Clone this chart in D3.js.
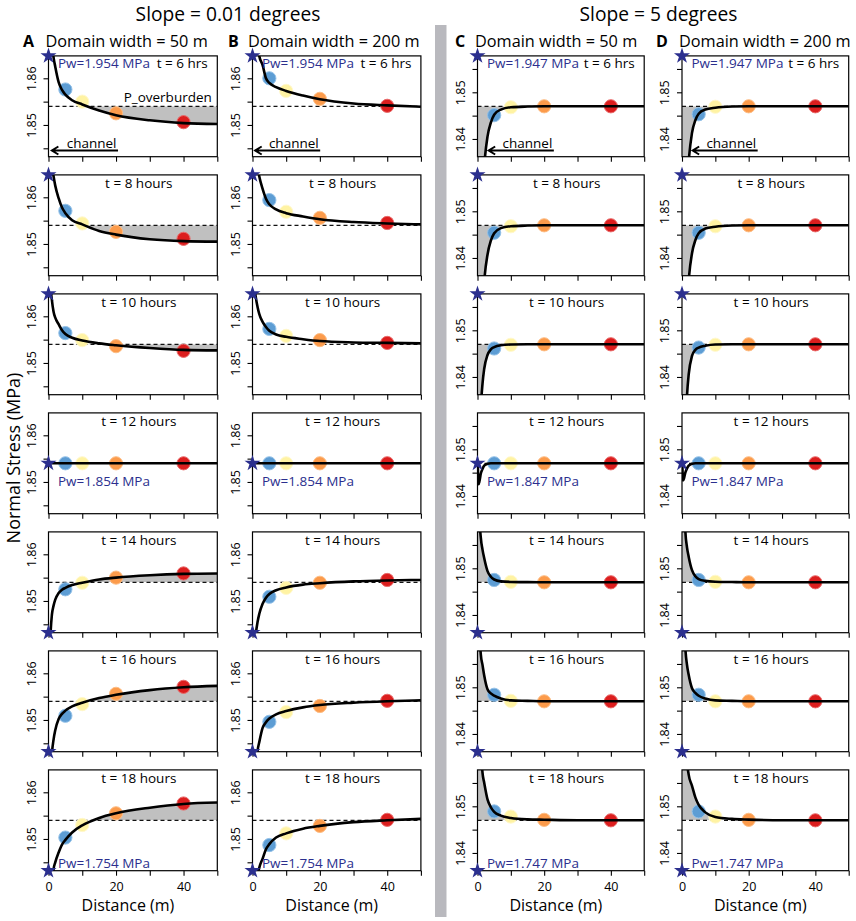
<!DOCTYPE html>
<html>
<head>
<meta charset="utf-8">
<script src="https://cdn.jsdelivr.net/npm/d3@7"></script>
<style>
  body { margin: 0; background: #fff; }
  text { font-family: "Open Sans", "Noto Sans", sans-serif; }
</style>
</head>
<body>
<div id="chart"></div>
<script>
// ---- data ----
const timeLabels = ["t = 6 hrs", "t = 8 hours", "t = 10 hours", "t = 12 hours", "t = 14 hours", "t = 16 hours", "t = 18 hours"];
const pwLow = [1.954, 1.940, 1.904, 1.854, 1.804, 1.767, 1.754];     // slope 0.01 deg
const pwSteep = [1.947, 1.933, 1.897, 1.847, 1.797, 1.760, 1.747];   // slope 5 deg
const pOverburdenLow = 1.854;
const pOverburdenSteep = 1.847;
const ylimLow = [1.844, 1.864];
const ylimSteep = [1.837, 1.857];
const yTicksLow = [1.845, 1.85, 1.855, 1.86];
const yLabelsLow = [1.85, 1.86];
const yTicksSteep = [1.84, 1.845, 1.85, 1.855];
const yLabelsSteep = [1.84, 1.85];
const xTicks = [0, 10, 20, 30, 40, 50];
const xLabels = [0, 20, 40];
const dotX = [5, 10, 20, 40];
const dotColors = ["#5d9dd4", "#fff3a3", "#fc9b4b", "#dc1e1e"];
const dotEdges = ["#93c1e8", "#fff8cc", "#fdbd85", "#e96a6a"];

const curveX = [0.1, 0.3, 0.6, 1, 1.5, 2, 3, 4, 5, 7, 10, 15, 20, 30, 40, 50];

const curveA = [
  [1.890, 1.880, 1.874, 1.868, 1.8645, 1.8625, 1.8592, 1.8575, 1.8565, 1.8553, 1.8544, 1.8531, 1.8521, 1.8510, 1.8504, 1.8502],
  [1.888, 1.878, 1.872, 1.867, 1.8645, 1.8625, 1.8598, 1.8578, 1.8566, 1.8551, 1.8542, 1.8528, 1.8520, 1.8510, 1.8506, 1.8505],
  [1.882, 1.874, 1.867, 1.8635, 1.861, 1.8597, 1.8583, 1.8570, 1.8562, 1.8554, 1.8548, 1.8542, 1.8538, 1.8532, 1.8528, 1.8527],
  [1.854, 1.854, 1.854, 1.854, 1.854, 1.854, 1.854, 1.854, 1.854, 1.854, 1.854, 1.854, 1.854, 1.854, 1.854, 1.854],
  [1.830, 1.838, 1.843, 1.847, 1.849, 1.8503, 1.8517, 1.8524, 1.8528, 1.8534, 1.8539, 1.8546, 1.8550, 1.8555, 1.8558, 1.8559],
  [1.820, 1.828, 1.836, 1.8425, 1.8458, 1.8478, 1.8502, 1.8513, 1.8520, 1.8529, 1.8537, 1.8547, 1.8554, 1.8564, 1.8570, 1.8573],
  [1.805, 1.815, 1.827, 1.837, 1.8435, 1.8450, 1.8471, 1.8488, 1.8498, 1.8514, 1.8529, 1.8545, 1.8555, 1.8567, 1.8575, 1.8578]
];
const curveB = [
  [1.890, 1.880, 1.875, 1.870, 1.867, 1.8648, 1.8628, 1.8600, 1.8590, 1.8581, 1.8573, 1.8563, 1.8555, 1.8546, 1.8542, 1.8539],
  [1.888, 1.878, 1.873, 1.869, 1.8665, 1.8645, 1.8618, 1.8597, 1.8585, 1.8574, 1.8566, 1.8559, 1.8553, 1.8547, 1.8544, 1.8542],
  [1.880, 1.872, 1.8665, 1.8640, 1.8620, 1.8605, 1.8588, 1.8577, 1.8569, 1.8561, 1.8556, 1.8551, 1.8547, 1.8544, 1.8543, 1.8542],
  [1.854, 1.854, 1.854, 1.854, 1.854, 1.854, 1.854, 1.854, 1.854, 1.854, 1.854, 1.854, 1.854, 1.854, 1.854, 1.854],
  [1.830, 1.836, 1.840, 1.843, 1.8455, 1.8472, 1.8494, 1.8507, 1.8515, 1.8523, 1.8529, 1.8535, 1.8538, 1.8542, 1.8544, 1.8545],
  [1.818, 1.826, 1.832, 1.838, 1.8433, 1.8452, 1.8483, 1.8495, 1.8503, 1.8512, 1.8519, 1.8527, 1.8532, 1.8537, 1.8540, 1.8542],
  [1.805, 1.815, 1.823, 1.831, 1.8420, 1.8438, 1.8458, 1.8478, 1.8489, 1.8503, 1.8512, 1.8522, 1.8528, 1.8536, 1.8540, 1.8543]
];
const curveC = [
  [1.790, 1.800, 1.810, 1.820, 1.828, 1.834, 1.8405, 1.8435, 1.8452, 1.8463, 1.8468, 1.84695, 1.847, 1.847, 1.847, 1.847],
  [1.792, 1.805, 1.814, 1.822, 1.829, 1.8348, 1.8407, 1.8437, 1.8453, 1.8464, 1.8468, 1.84695, 1.847, 1.847, 1.847, 1.847],
  [1.800, 1.815, 1.823, 1.833, 1.8385, 1.8417, 1.8447, 1.8459, 1.8464, 1.8468, 1.84695, 1.847, 1.847, 1.847, 1.847, 1.847],
  [1.847, 1.8425, 1.8432, 1.8448, 1.8458, 1.8465, 1.8469, 1.847, 1.847, 1.847, 1.847, 1.847, 1.847, 1.847, 1.847, 1.847],
  [1.900, 1.880, 1.861, 1.8565, 1.8540, 1.8522, 1.8494, 1.8482, 1.8476, 1.8472, 1.84708, 1.84703, 1.847, 1.847, 1.847, 1.847],
  [1.900, 1.880, 1.862, 1.8570, 1.8548, 1.8526, 1.8496, 1.8487, 1.8482, 1.8476, 1.8472, 1.8471, 1.847, 1.847, 1.847, 1.847],
  [1.920, 1.900, 1.880, 1.863, 1.8572, 1.8551, 1.8515, 1.8498, 1.8488, 1.8480, 1.8475, 1.8472, 1.84712, 1.847, 1.847, 1.847]
];
const curveD = [
  [1.790, 1.800, 1.810, 1.820, 1.829, 1.835, 1.8413, 1.8440, 1.8454, 1.8463, 1.8467, 1.84695, 1.847, 1.847, 1.847, 1.847],
  [1.792, 1.803, 1.812, 1.821, 1.829, 1.8350, 1.8410, 1.8438, 1.8453, 1.8463, 1.8467, 1.84695, 1.847, 1.847, 1.847, 1.847],
  [1.800, 1.810, 1.818, 1.828, 1.8360, 1.8405, 1.8445, 1.8458, 1.8463, 1.8467, 1.84695, 1.847, 1.847, 1.847, 1.847, 1.847],
  [1.847, 1.8433, 1.8438, 1.8450, 1.8459, 1.8465, 1.8469, 1.847, 1.847, 1.847, 1.847, 1.847, 1.847, 1.847, 1.847, 1.847],
  [1.900, 1.880, 1.866, 1.858, 1.8545, 1.8525, 1.8496, 1.8483, 1.8477, 1.8473, 1.84712, 1.84705, 1.847, 1.847, 1.847, 1.847],
  [1.900, 1.880, 1.866, 1.8585, 1.8548, 1.8527, 1.8498, 1.8488, 1.8482, 1.8476, 1.8472, 1.8471, 1.847, 1.847, 1.847, 1.847],
  [1.920, 1.900, 1.885, 1.870, 1.860, 1.8568, 1.8544, 1.8519, 1.8503, 1.8487, 1.8477, 1.8473, 1.84715, 1.847, 1.847, 1.847]
];

const dotsA = [
  [1.8576, 1.8550, 1.8525, 1.8506],
  [1.8571, 1.8544, 1.8526, 1.8511],
  [1.8564, 1.8549, 1.8536, 1.8526],
  [1.854, 1.854, 1.854, 1.854],
  [1.8525, 1.8539, 1.8550, 1.8559],
  [1.8509, 1.8534, 1.8556, 1.8571],
  [1.8503, 1.8530, 1.8555, 1.8576]
];
const dotsB = [
  [1.8600, 1.8573, 1.8556, 1.8541],
  [1.8594, 1.8569, 1.8556, 1.8545],
  [1.8573, 1.8558, 1.8549, 1.8543],
  [1.854, 1.854, 1.854, 1.854],
  [1.8509, 1.8528, 1.8539, 1.8545],
  [1.8496, 1.8517, 1.8530, 1.8541],
  [1.8487, 1.8512, 1.8528, 1.8541]
];
const dotsC = [
  [1.8451, 1.8468, 1.847, 1.847],
  [1.8454, 1.8468, 1.847, 1.847],
  [1.8461, 1.8469, 1.847, 1.847],
  [1.847, 1.847, 1.847, 1.847],
  [1.8475, 1.8471, 1.847, 1.847],
  [1.8484, 1.8471, 1.847, 1.847],
  [1.8489, 1.8478, 1.8471, 1.847]
];
const dotsD = [
  [1.8453, 1.8469, 1.847, 1.847],
  [1.8454, 1.8468, 1.847, 1.847],
  [1.8463, 1.8469, 1.847, 1.847],
  [1.847, 1.847, 1.847, 1.847],
  [1.8475, 1.8471, 1.847, 1.847],
  [1.8484, 1.8470, 1.847, 1.847],
  [1.8489, 1.8478, 1.8471, 1.847]
];

// side of the overburden line that is shaded grey (-1 below, +1 above, 0 none)
const fillA = [-1, -1, -1, 0, 1, 1, 1];
const fillB = [0, 0, 0, 0, 0, 0, 0];
const fillC = [-1, -1, -1, 0, 1, 1, 1];
const fillD = [-1, -1, -1, 0, 1, 1, 1];

// ---- layout ----
const W = 856, H = 921;
const rowTop0 = 55.9, rowPitch = 119, plotH = 100.8;
const navy = "#2b2f8e";

const columns = [
  {key: "A", head: "Domain width = 50 m", left: 48.5, width: 168.8, keyX: 23, headX: 45.5, curves: curveA, dots: dotsA, fills: fillA,
   pw: pwLow, p: pOverburdenLow, ylim: ylimLow, ticks: yTicksLow, labels: yLabelsLow, arrow: [20.6, 1.0]},
  {key: "B", head: "Domain width = 200 m", left: 252.5, width: 168.4, keyX: 228, headX: 248, curves: curveB, dots: dotsB, fills: fillB,
   pw: pwLow, p: pOverburdenLow, ylim: ylimLow, ticks: yTicksLow, labels: yLabelsLow, arrow: [20.1, 0.8]},
  {key: "C", head: "Domain width = 50 m", left: 477.5, width: 166.7, keyX: 455, headX: 475, curves: curveC, dots: dotsC, fills: fillC,
   pw: pwSteep, p: pOverburdenSteep, ylim: ylimSteep, ticks: yTicksSteep, labels: yLabelsSteep, arrow: [22.9, 3.35]},
  {key: "D", head: "Domain width = 200 m", left: 682, width: 166.7, keyX: 656, headX: 679, curves: curveD, dots: dotsD, fills: fillD,
   pw: pwSteep, p: pOverburdenSteep, ylim: ylimSteep, ticks: yTicksSteep, labels: yLabelsSteep, arrow: [22.7, 3.2]}
];

const svg = d3.select("#chart").append("svg")
  .attr("width", W)
  .attr("height", H)
  .attr("viewBox", [0, 0, W, H]);

const defs = svg.append("defs");

// grey separator between the two slopes
svg.append("rect")
  .attr("x", 435).attr("y", 25)
  .attr("width", 11.5).attr("height", 892)
  .attr("fill", "#b9b9be");

// section titles
svg.append("text").attr("x", 228).attr("y", 21).attr("text-anchor", "middle")
  .attr("font-size", 19.2).text("Slope = 0.01 degrees");
svg.append("text").attr("x", 658.5).attr("y", 21).attr("text-anchor", "middle")
  .attr("font-size", 19.2).text("Slope = 5 degrees");

// y axis title
svg.append("text")
  .attr("transform", "translate(20,458) rotate(-90)")
  .attr("text-anchor", "middle")
  .attr("font-size", 18)
  .text("Normal Stress (MPa)");

columns.forEach((col, ci) => {
  svg.append("text").attr("x", col.keyX).attr("y", 46.5)
    .attr("font-size", 16).attr("font-weight", "bold").text(col.key);
  svg.append("text").attr("x", col.headX).attr("y", 46.5)
    .attr("font-size", 16.3).text(col.head);

  const x = d3.scaleLinear().domain([0, 50]).range([0, col.width]);
  const pad = 0.04 * (col.ylim[1] - col.ylim[0]);
  const y = d3.scaleLinear().domain([col.ylim[0] - pad, col.ylim[1] + pad]).range([plotH, 0]);

  col.curves.forEach((vals, ri) => {
    const top = rowTop0 + ri * rowPitch;
    const g = svg.append("g").attr("transform", `translate(${col.left},${top})`);
    const clipId = `clip-${ci}-${ri}`;
    defs.append("clipPath").attr("id", clipId)
      .append("rect").attr("width", col.width).attr("height", plotH);

    const pts = curveX.map((d, i) => [d, vals[i]]);
    const yP = y(col.p);

    // grey area between profile and overburden
    const side = col.fills[ri];
    if (side !== 0) {
      const fillId = `fill-${ci}-${ri}`;
      defs.append("clipPath").attr("id", fillId)
        .append("rect")
        .attr("x", 0).attr("width", col.width)
        .attr("y", side > 0 ? 0 : yP)
        .attr("height", side > 0 ? yP : plotH - yP);
      g.append("path")
        .attr("clip-path", `url(#${fillId})`)
        .attr("fill", "#c0c0c0")
        .attr("d", d3.area()
          .x(d => x(d[0]))
          .y0(yP)
          .y1(d => y(d[1]))
          .curve(d3.curveMonotoneX)(pts));
    }

    // overburden line
    g.append("line")
      .attr("x1", 0).attr("x2", col.width)
      .attr("y1", yP).attr("y2", yP)
      .attr("stroke", "#111").attr("stroke-width", 1.3)
      .attr("stroke-dasharray", "4,3");

    // observation points
    g.append("g").selectAll("circle")
      .data(col.dots[ri])
      .join("circle")
      .attr("cx", (d, i) => x(dotX[i]))
      .attr("cy", d => y(d))
      .attr("r", 6.6)
      .attr("fill", (d, i) => dotColors[i])
      .attr("stroke", (d, i) => dotEdges[i])
      .attr("stroke-width", 1);

    // stress profile
    g.append("path")
      .attr("clip-path", `url(#${clipId})`)
      .attr("fill", "none")
      .attr("stroke", "#000")
      .attr("stroke-width", 2.6)
      .attr("d", d3.line()
        .x(d => x(d[0]))
        .y(d => y(d[1]))
        .curve(d3.curveMonotoneX)(pts));

    // box
    g.append("rect")
      .attr("width", col.width).attr("height", plotH)
      .attr("fill", "none").attr("stroke", "#000").attr("stroke-width", 1.2);

    // y axis
    const yAxis = g.append("g")
      .call(d3.axisLeft(y).tickValues(col.ticks).tickSize(5)
        .tickFormat(d => col.labels.includes(d) ? d3.format(".2f")(d) : ""));
    yAxis.select(".domain").remove();
    yAxis.selectAll("line").attr("stroke-width", 1.1);
    yAxis.selectAll("text")
      .attr("transform", "rotate(-90)")
      .attr("x", 0).attr("y", -13).attr("dy", 0)
      .attr("text-anchor", "middle")
      .attr("font-size", 12.5)
      .attr("font-family", "\"Open Sans\", sans-serif")
      .attr("fill", "#000");

    // x axis
    const last = ri === col.curves.length - 1;
    const xAxis = g.append("g")
      .attr("transform", `translate(0,${plotH})`)
      .call(d3.axisBottom(x).tickValues(xTicks).tickSize(5)
        .tickFormat(d => last && xLabels.includes(d) ? d : ""));
    xAxis.select(".domain").remove();
    xAxis.selectAll("line").attr("stroke-width", 1.1);
    xAxis.selectAll("text")
      .attr("y", 20).attr("dy", 0)
      .attr("font-size", 12.5)
      .attr("font-family", "\"Open Sans\", sans-serif")
      .attr("fill", "#000");

    // injection well pressure (star clamped to the panel edge)
    const [lo, hi] = y.domain();
    const pw = col.pw[ri];
    g.append("path")
      .attr("transform", `translate(0,${y(Math.max(lo, Math.min(hi, pw)))})`)
      .attr("d", d3.symbol(d3.symbolStar, 80)())
      .attr("fill", navy);

    // labels
    const pwText = `Pw=${pw.toFixed(3)} MPa`;
    if (ri === 0) {
      g.append("text").attr("x", 9.5).attr("y", 12.5)
        .attr("font-size", 13.5).attr("fill", navy).text(pwText);
      g.append("text").attr("x", col.width - 9.5).attr("y", 12.5)
        .attr("text-anchor", "end").attr("font-size", 13.5).text(timeLabels[ri]);
    } else {
      g.append("text").attr("x", col.width * 0.535).attr("y", 13)
        .attr("text-anchor", "middle").attr("font-size", 13.5).text(timeLabels[ri]);
    }
    if (ri === 3) {
      g.append("text").attr("x", 9.5).attr("y", 73)
        .attr("font-size", 13.5).attr("fill", navy).text(pwText);
    }
    if (ri === 6) {
      g.append("text").attr("x", 9.5).attr("y", 98)
        .attr("font-size", 13.5).attr("fill", navy).text(pwText);
    }

    if (ri === 0) {
      if (ci === 0) {
        g.append("text").attr("x", col.width - 5.5).attr("y", yP - 4.5)
          .attr("text-anchor", "end").attr("font-size", 13.5).text("P_overburden");
      }
      // channel arrow
      const ay = 94.6;
      const tail = x(col.arrow[0]), tip = x(col.arrow[1]);
      g.append("text").attr("x", tail - 1.5).attr("y", ay - 2.5)
        .attr("text-anchor", "end").attr("font-size", 13.5).text("channel");
      g.append("path")
        .attr("fill", "none").attr("stroke", "#000").attr("stroke-width", 2)
        .attr("d", `M${tail},${ay}H${tip}M${tip + 6.5},${ay - 4}L${tip},${ay}L${tip + 6.5},${ay + 4}`);
    }

    if (last) {
      svg.append("text")
        .attr("x", col.left + col.width / 2 - 5).attr("y", 910.5)
        .attr("text-anchor", "middle").attr("font-size", 16)
        .text("Distance (m)");
    }
  });
});
</script>
</body>
</html>
